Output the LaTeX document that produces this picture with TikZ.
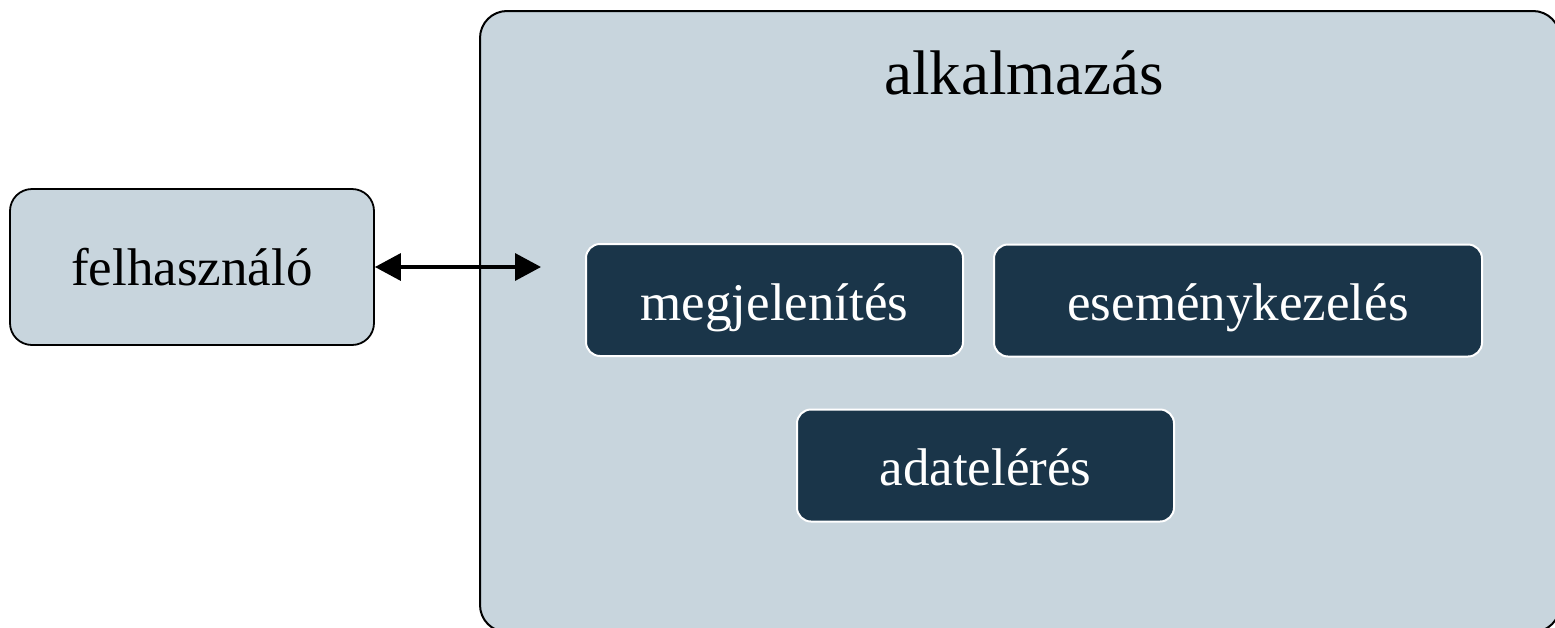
\documentclass[tikz,border=0pt]{standalone}
\usepackage{fontspec}
\setmainfont{Liberation Serif}
\usetikzlibrary{arrows.meta}
\definecolor{lightbox}{HTML}{C8D5DD}
\definecolor{darkbox}{HTML}{1A3549}
\tikzset{
  x=1pt,y=-1pt,
  outerbox/.style={draw=black,line width=2pt,fill=lightbox,rounded corners=27pt},
  userbox/.style={draw=black,line width=1.8pt,fill=lightbox,rounded corners=22pt,
    minimum width=364pt,minimum height=156pt,inner sep=0pt,
    text height=36pt,text depth=0pt,
    font=\fontsize{53}{60}\selectfont},
  darkbx/.style={draw=white,line width=2pt,fill=darkbox,rounded corners=14pt,
    text=white,inner sep=0pt,minimum height=112pt,
    text height=40pt,text depth=0pt,
    font=\fontsize{53}{60}\selectfont},
  twoway/.style={line width=3.5pt,{Triangle[length=26pt,width=27pt]}-{Triangle[length=26pt,width=27pt]}}
}
\begin{document}
\begin{tikzpicture}
\useasboundingbox (0,0) rectangle (1555,627);
\clip (0,0) rectangle (1555,627);
\draw[outerbox] (480,11) rectangle (1560,632);
\node[anchor=base,font=\fontsize{63}{70}\selectfont] (title) at (1024,94) {alkalmazás};
\node[userbox] (user) at (192,267) {felhasználó};
\node[darkbx,minimum width=377pt] (view) at (774.5,300) {megjelenítés};
\node[darkbx,minimum width=488pt] (event) at (1238,300.5) {eseménykezelés};
\node[darkbx,minimum width=377pt] (data) at (985.5,465.5) {adatelérés};
\coordinate (apptip) at (541,267);
\draw[twoway] (user.east) -- (apptip);
\end{tikzpicture}
\end{document}
